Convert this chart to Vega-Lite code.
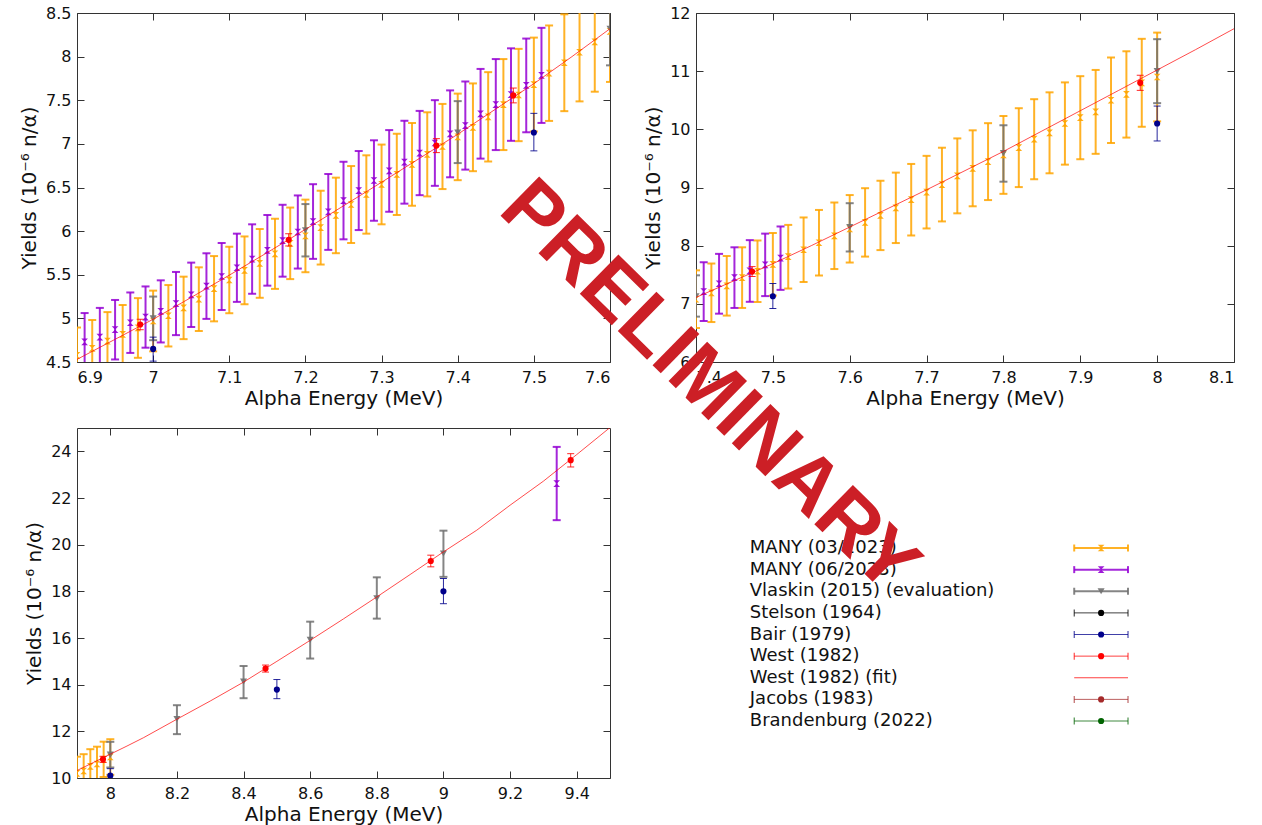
{
 "$schema": "https://vega.github.io/schema/vega-lite/v6.json",
 "padding": {"left": 19, "top": 4, "right": 0, "bottom": 0},
 "background": "white",
 "columns": 2,
 "bounds": "flush",
 "align": "each",
 "spacing": {"row": 66, "column": 86},
 "datasets": {
  "pts": [
   {"series":"MANY (03/2023)","E":6.90,"Y":4.575,"lo":4.255,"hi":4.895},
   {"series":"MANY (03/2023)","E":6.92,"Y":4.655,"lo":4.329,"hi":4.981},
   {"series":"MANY (03/2023)","E":6.94,"Y":4.74,"lo":4.408,"hi":5.072},
   {"series":"MANY (03/2023)","E":6.96,"Y":4.816,"lo":4.479,"hi":5.153},
   {"series":"MANY (03/2023)","E":6.98,"Y":4.89,"lo":4.548,"hi":5.232},
   {"series":"MANY (03/2023)","E":7.00,"Y":4.97,"lo":4.622,"hi":5.318},
   {"series":"MANY (03/2023)","E":7.02,"Y":5.03,"lo":4.678,"hi":5.382},
   {"series":"MANY (03/2023)","E":7.04,"Y":5.12,"lo":4.762,"hi":5.478},
   {"series":"MANY (03/2023)","E":7.06,"Y":5.22,"lo":4.855,"hi":5.585},
   {"series":"MANY (03/2023)","E":7.08,"Y":5.34,"lo":4.966,"hi":5.714},
   {"series":"MANY (03/2023)","E":7.10,"Y":5.44,"lo":5.059,"hi":5.821},
   {"series":"MANY (03/2023)","E":7.12,"Y":5.55,"lo":5.162,"hi":5.939},
   {"series":"MANY (03/2023)","E":7.14,"Y":5.63,"lo":5.236,"hi":6.024},
   {"series":"MANY (03/2023)","E":7.16,"Y":5.74,"lo":5.338,"hi":6.142},
   {"series":"MANY (03/2023)","E":7.18,"Y":5.86,"lo":5.450,"hi":6.270},
   {"series":"MANY (03/2023)","E":7.20,"Y":5.945,"lo":5.529,"hi":6.361},
   {"series":"MANY (03/2023)","E":7.22,"Y":6.04,"lo":5.617,"hi":6.463},
   {"series":"MANY (03/2023)","E":7.24,"Y":6.18,"lo":5.747,"hi":6.613},
   {"series":"MANY (03/2023)","E":7.26,"Y":6.305,"lo":5.864,"hi":6.746},
   {"series":"MANY (03/2023)","E":7.28,"Y":6.42,"lo":5.971,"hi":6.869},
   {"series":"MANY (03/2023)","E":7.30,"Y":6.535,"lo":6.078,"hi":6.992},
   {"series":"MANY (03/2023)","E":7.32,"Y":6.65,"lo":6.185,"hi":7.116},
   {"series":"MANY (03/2023)","E":7.34,"Y":6.765,"lo":6.291,"hi":7.239},
   {"series":"MANY (03/2023)","E":7.36,"Y":6.88,"lo":6.398,"hi":7.362},
   {"series":"MANY (03/2023)","E":7.38,"Y":6.97,"lo":6.482,"hi":7.458},
   {"series":"MANY (03/2023)","E":7.40,"Y":7.08,"lo":6.584,"hi":7.576},
   {"series":"MANY (03/2023)","E":7.42,"Y":7.19,"lo":6.687,"hi":7.693},
   {"series":"MANY (03/2023)","E":7.44,"Y":7.31,"lo":6.798,"hi":7.822},
   {"series":"MANY (03/2023)","E":7.46,"Y":7.45,"lo":6.929,"hi":7.972},
   {"series":"MANY (03/2023)","E":7.48,"Y":7.56,"lo":7.031,"hi":8.089},
   {"series":"MANY (03/2023)","E":7.50,"Y":7.68,"lo":7.142,"hi":8.218},
   {"series":"MANY (03/2023)","E":7.52,"Y":7.81,"lo":7.263,"hi":8.357},
   {"series":"MANY (03/2023)","E":7.54,"Y":7.93,"lo":7.375,"hi":8.485},
   {"series":"MANY (03/2023)","E":7.56,"Y":8.05,"lo":7.487,"hi":8.614},
   {"series":"MANY (03/2023)","E":7.58,"Y":8.17,"lo":7.598,"hi":8.742},
   {"series":"MANY (03/2023)","E":7.60,"Y":8.29,"lo":7.710,"hi":8.870},
   {"series":"MANY (03/2023)","E":7.62,"Y":8.40,"lo":7.812,"hi":8.988},
   {"series":"MANY (03/2023)","E":7.64,"Y":8.52,"lo":7.924,"hi":9.116},
   {"series":"MANY (03/2023)","E":7.66,"Y":8.65,"lo":8.045,"hi":9.256},
   {"series":"MANY (03/2023)","E":7.68,"Y":8.79,"lo":8.175,"hi":9.405},
   {"series":"MANY (03/2023)","E":7.70,"Y":8.92,"lo":8.296,"hi":9.544},
   {"series":"MANY (03/2023)","E":7.72,"Y":9.05,"lo":8.417,"hi":9.684},
   {"series":"MANY (03/2023)","E":7.74,"Y":9.20,"lo":8.556,"hi":9.844},
   {"series":"MANY (03/2023)","E":7.76,"Y":9.33,"lo":8.677,"hi":9.983},
   {"series":"MANY (03/2023)","E":7.78,"Y":9.445,"lo":8.784,"hi":10.106},
   {"series":"MANY (03/2023)","E":7.80,"Y":9.56,"lo":8.891,"hi":10.229},
   {"series":"MANY (03/2023)","E":7.82,"Y":9.685,"lo":9.007,"hi":10.363},
   {"series":"MANY (03/2023)","E":7.84,"Y":9.83,"lo":9.142,"hi":10.518},
   {"series":"MANY (03/2023)","E":7.86,"Y":9.94,"lo":9.244,"hi":10.636},
   {"series":"MANY (03/2023)","E":7.88,"Y":10.10,"lo":9.393,"hi":10.807},
   {"series":"MANY (03/2023)","E":7.90,"Y":10.20,"lo":9.486,"hi":10.914},
   {"series":"MANY (03/2023)","E":7.92,"Y":10.30,"lo":9.579,"hi":11.021},
   {"series":"MANY (03/2023)","E":7.94,"Y":10.50,"lo":9.765,"hi":11.235},
   {"series":"MANY (03/2023)","E":7.96,"Y":10.60,"lo":9.858,"hi":11.342},
   {"series":"MANY (03/2023)","E":7.98,"Y":10.80,"lo":10.044,"hi":11.556},
   {"series":"MANY (03/2023)","E":8.00,"Y":10.90,"lo":10.137,"hi":11.663},
   {"series":"MANY (06/2023)","E":6.91,"Y":4.73,"lo":4.399,"hi":5.061},
   {"series":"MANY (06/2023)","E":6.93,"Y":4.785,"lo":4.450,"hi":5.120},
   {"series":"MANY (06/2023)","E":6.95,"Y":4.87,"lo":4.529,"hi":5.211},
   {"series":"MANY (06/2023)","E":6.97,"Y":4.95,"lo":4.604,"hi":5.297},
   {"series":"MANY (06/2023)","E":6.99,"Y":5.015,"lo":4.664,"hi":5.366},
   {"series":"MANY (06/2023)","E":7.01,"Y":5.08,"lo":4.724,"hi":5.436},
   {"series":"MANY (06/2023)","E":7.03,"Y":5.17,"lo":4.808,"hi":5.532},
   {"series":"MANY (06/2023)","E":7.05,"Y":5.27,"lo":4.901,"hi":5.639},
   {"series":"MANY (06/2023)","E":7.07,"Y":5.37,"lo":4.994,"hi":5.746},
   {"series":"MANY (06/2023)","E":7.09,"Y":5.48,"lo":5.096,"hi":5.864},
   {"series":"MANY (06/2023)","E":7.11,"Y":5.58,"lo":5.189,"hi":5.971},
   {"series":"MANY (06/2023)","E":7.13,"Y":5.68,"lo":5.282,"hi":6.078},
   {"series":"MANY (06/2023)","E":7.15,"Y":5.78,"lo":5.375,"hi":6.185},
   {"series":"MANY (06/2023)","E":7.17,"Y":5.89,"lo":5.478,"hi":6.302},
   {"series":"MANY (06/2023)","E":7.19,"Y":5.99,"lo":5.571,"hi":6.409},
   {"series":"MANY (06/2023)","E":7.21,"Y":6.11,"lo":5.682,"hi":6.538},
   {"series":"MANY (06/2023)","E":7.23,"Y":6.22,"lo":5.785,"hi":6.655},
   {"series":"MANY (06/2023)","E":7.25,"Y":6.35,"lo":5.906,"hi":6.795},
   {"series":"MANY (06/2023)","E":7.27,"Y":6.465,"lo":6.012,"hi":6.918},
   {"series":"MANY (06/2023)","E":7.29,"Y":6.58,"lo":6.119,"hi":7.041},
   {"series":"MANY (06/2023)","E":7.31,"Y":6.69,"lo":6.222,"hi":7.158},
   {"series":"MANY (06/2023)","E":7.33,"Y":6.79,"lo":6.315,"hi":7.265},
   {"series":"MANY (06/2023)","E":7.35,"Y":6.895,"lo":6.412,"hi":7.378},
   {"series":"MANY (06/2023)","E":7.37,"Y":7.01,"lo":6.519,"hi":7.501},
   {"series":"MANY (06/2023)","E":7.39,"Y":7.115,"lo":6.617,"hi":7.613},
   {"series":"MANY (06/2023)","E":7.41,"Y":7.21,"lo":6.705,"hi":7.715},
   {"series":"MANY (06/2023)","E":7.43,"Y":7.345,"lo":6.831,"hi":7.859},
   {"series":"MANY (06/2023)","E":7.45,"Y":7.45,"lo":6.929,"hi":7.972},
   {"series":"MANY (06/2023)","E":7.47,"Y":7.565,"lo":7.035,"hi":8.095},
   {"series":"MANY (06/2023)","E":7.49,"Y":7.67,"lo":7.133,"hi":8.207},
   {"series":"MANY (06/2023)","E":7.51,"Y":7.785,"lo":7.240,"hi":8.330},
   {"series":"MANY (06/2023)","E":9.34,"Y":22.62,"lo":21.05,"hi":24.19},
   {"series":"Vlaskin (2015) (evaluation)","E":7.0,"Y":5.00,"lo":4.75,"hi":5.25},
   {"series":"Vlaskin (2015) (evaluation)","E":7.2,"Y":6.01,"lo":5.71,"hi":6.31},
   {"series":"Vlaskin (2015) (evaluation)","E":7.4,"Y":7.13,"lo":6.78,"hi":7.49},
   {"series":"Vlaskin (2015) (evaluation)","E":7.6,"Y":8.32,"lo":7.90,"hi":8.73},
   {"series":"Vlaskin (2015) (evaluation)","E":7.8,"Y":9.59,"lo":9.10,"hi":10.07},
   {"series":"Vlaskin (2015) (evaluation)","E":8.0,"Y":11.0,"lo":10.45,"hi":11.55},
   {"series":"Vlaskin (2015) (evaluation)","E":8.2,"Y":12.53,"lo":11.88,"hi":13.12},
   {"series":"Vlaskin (2015) (evaluation)","E":8.4,"Y":14.13,"lo":13.42,"hi":14.80},
   {"series":"Vlaskin (2015) (evaluation)","E":8.6,"Y":15.92,"lo":15.12,"hi":16.70},
   {"series":"Vlaskin (2015) (evaluation)","E":8.8,"Y":17.70,"lo":16.83,"hi":18.60},
   {"series":"Vlaskin (2015) (evaluation)","E":9.0,"Y":19.62,"lo":18.62,"hi":20.60},
   {"series":"Bair (1979)","E":7.0,"Y":4.65,"lo":4.51,"hi":4.785},
   {"series":"Bair (1979)","E":7.5,"Y":7.13,"lo":6.92,"hi":7.35},
   {"series":"Bair (1979)","E":8.0,"Y":10.10,"lo":9.80,"hi":10.40},
   {"series":"Bair (1979)","E":8.5,"Y":13.79,"lo":13.40,"hi":14.22},
   {"series":"Bair (1979)","E":9.0,"Y":18.00,"lo":17.47,"hi":18.55},
   {"series":"West (1982)","E":6.983,"Y":4.93,"lo":4.87,"hi":4.99},
   {"series":"West (1982)","E":7.178,"Y":5.90,"lo":5.83,"hi":5.97},
   {"series":"West (1982)","E":7.372,"Y":6.98,"lo":6.90,"hi":7.06},
   {"series":"West (1982)","E":7.473,"Y":7.555,"lo":7.47,"hi":7.64},
   {"series":"West (1982)","E":7.978,"Y":10.80,"lo":10.67,"hi":10.93},
   {"series":"West (1982)","E":8.466,"Y":14.69,"lo":14.54,"hi":14.84},
   {"series":"West (1982)","E":8.962,"Y":19.30,"lo":19.05,"hi":19.55},
   {"series":"West (1982)","E":9.382,"Y":23.62,"lo":23.33,"hi":23.90}
  ],
  "fit": [
   {"E":6.90,"Y":4.53},{"E":6.95,"Y":4.76},{"E":7.00,"Y":4.99},{"E":7.05,"Y":5.24},
   {"E":7.10,"Y":5.495},{"E":7.15,"Y":5.755},{"E":7.20,"Y":6.02},{"E":7.25,"Y":6.29},
   {"E":7.30,"Y":6.56},{"E":7.35,"Y":6.835},{"E":7.40,"Y":7.11},{"E":7.45,"Y":7.40},
   {"E":7.50,"Y":7.69},{"E":7.55,"Y":8.00},{"E":7.60,"Y":8.32},{"E":7.65,"Y":8.64},
   {"E":7.70,"Y":8.96},{"E":7.75,"Y":9.29},{"E":7.80,"Y":9.62},{"E":7.85,"Y":9.97},
   {"E":7.90,"Y":10.32},{"E":7.95,"Y":10.67},{"E":8.00,"Y":11.02},{"E":8.05,"Y":11.37},
   {"E":8.10,"Y":11.73},{"E":8.20,"Y":12.52},{"E":8.30,"Y":13.30},{"E":8.40,"Y":14.11},
   {"E":8.50,"Y":15.00},{"E":8.60,"Y":15.90},{"E":8.70,"Y":16.82},{"E":8.80,"Y":17.76},
   {"E":8.90,"Y":18.72},{"E":9.00,"Y":19.69},{"E":9.10,"Y":20.62},{"E":9.20,"Y":21.69},
   {"E":9.30,"Y":22.72},{"E":9.40,"Y":23.86},{"E":9.50,"Y":25.02}
  ],
  "legend": [
   {"series":"MANY (03/2023)"},{"series":"MANY (06/2023)"},{"series":"Vlaskin (2015) (evaluation)"},
   {"series":"Stelson (1964)"},{"series":"Bair (1979)"},{"series":"West (1982)"},
   {"series":"West (1982) (fit)"},{"series":"Jacobs (1983)"},{"series":"Brandenburg (2022)"}
  ],
  "mark": [{"t":"PRELIMINARY"}]
 },
 "concat": [
  {
   "width": 533, "height": 349,
   "resolve": {"axis": {"x": "independent", "y": "independent"}},
   "layer": [
    {
     "layer": [
      {"data":{"name":"pts"},"transform":[{"filter":{"field":"series","oneOf":["MANY (03/2023)","MANY (06/2023)","Vlaskin (2015) (evaluation)"]}}],
       "mark":{"type":"rule","strokeWidth":2,"opacity":0.85,"clip":true},
       "encoding":{
        "x":{"field":"E","type":"quantitative","scale":{"domain":[6.9,7.6],"zero":false,"nice":false},"axis":{"title":"Alpha Energy (MeV)","values":[6.9,7,7.1,7.2,7.3,7.4,7.5,7.6],"format":"~g"}},
        "y":{"field":"lo","type":"quantitative","scale":{"domain":[4.5,8.5],"zero":false,"nice":false},"axis":{"title":"Yields (10⁻⁶ n/α)","values":[4.5,5,5.5,6,6.5,7,7.5,8,8.5],"format":"~g"}},
        "y2":{"field":"hi"},
        "color":{"field":"series","type":"nominal","legend":null,"scale":{"domain":["MANY (03/2023)","MANY (06/2023)","Vlaskin (2015) (evaluation)","Stelson (1964)","Bair (1979)","West (1982)","West (1982) (fit)","Jacobs (1983)","Brandenburg (2022)"],"range":["#ffa500","#9400d3","#707070","#000000","#00008b","#ff0000","#ff0000","#a52a2a","#006400"]}}}},
      {"data":{"name":"pts"},"transform":[{"filter":{"field":"series","oneOf":["MANY (03/2023)","MANY (06/2023)","Vlaskin (2015) (evaluation)"]}}],
       "mark":{"type":"tick","orient":"horizontal","size":8,"thickness":2,"opacity":0.85,"clip":true},
       "encoding":{"x":{"field":"E","type":"quantitative"},"y":{"field":"lo","type":"quantitative"},"color":{"field":"series","type":"nominal","legend":null}}},
      {"data":{"name":"pts"},"transform":[{"filter":{"field":"series","oneOf":["MANY (03/2023)","MANY (06/2023)","Vlaskin (2015) (evaluation)"]}}],
       "mark":{"type":"tick","orient":"horizontal","size":8,"thickness":2,"opacity":0.85,"clip":true},
       "encoding":{"x":{"field":"E","type":"quantitative"},"y":{"field":"hi","type":"quantitative"},"color":{"field":"series","type":"nominal","legend":null}}},
      {"data":{"name":"pts"},"transform":[{"filter":{"field":"series","oneOf":["MANY (03/2023)","MANY (06/2023)"]}}],
       "mark":{"type":"point","shape":"M-1,-1L1,-1L-1,1L1,1Z","size":45,"filled":true,"opacity":0.9,"clip":true},
       "encoding":{"x":{"field":"E","type":"quantitative"},"y":{"field":"Y","type":"quantitative"},"color":{"field":"series","type":"nominal","legend":null}}},
      {"data":{"name":"pts"},"transform":[{"filter":{"field":"series","equal":"Vlaskin (2015) (evaluation)"}}],
       "mark":{"type":"point","shape":"triangle-down","size":50,"filled":true,"opacity":0.9,"clip":true},
       "encoding":{"x":{"field":"E","type":"quantitative"},"y":{"field":"Y","type":"quantitative"},"color":{"field":"series","type":"nominal","legend":null}}},
      {"data":{"name":"pts"},"transform":[{"filter":{"field":"series","oneOf":["Bair (1979)","West (1982)"]}}],
       "mark":{"type":"rule","strokeWidth":1,"opacity":0.85,"clip":true},
       "encoding":{"x":{"field":"E","type":"quantitative"},"y":{"field":"lo","type":"quantitative"},"y2":{"field":"hi"},"color":{"field":"series","type":"nominal","legend":null}}},
      {"data":{"name":"pts"},"transform":[{"filter":{"field":"series","oneOf":["Bair (1979)","West (1982)"]}}],
       "mark":{"type":"tick","orient":"horizontal","size":7,"thickness":1,"opacity":0.85,"clip":true},
       "encoding":{"x":{"field":"E","type":"quantitative"},"y":{"field":"lo","type":"quantitative"},"color":{"field":"series","type":"nominal","legend":null}}},
      {"data":{"name":"pts"},"transform":[{"filter":{"field":"series","oneOf":["Bair (1979)","West (1982)"]}}],
       "mark":{"type":"tick","orient":"horizontal","size":7,"thickness":1,"opacity":0.85,"clip":true},
       "encoding":{"x":{"field":"E","type":"quantitative"},"y":{"field":"hi","type":"quantitative"},"color":{"field":"series","type":"nominal","legend":null}}},
      {"data":{"name":"fit"},"mark":{"type":"line","color":"#ff0000","opacity":0.7,"strokeWidth":1,"clip":true},
       "encoding":{"x":{"field":"E","type":"quantitative"},"y":{"field":"Y","type":"quantitative"}}},
      {"data":{"name":"pts"},"transform":[{"filter":{"field":"series","oneOf":["Bair (1979)","West (1982)"]}}],
       "mark":{"type":"point","shape":"circle","size":38,"filled":true,"opacity":1,"clip":true},
       "encoding":{"x":{"field":"E","type":"quantitative"},"y":{"field":"Y","type":"quantitative"},"color":{"field":"series","type":"nominal","legend":null}}}
     ]
    },
    {"data":{"name":"fit"},"mark":{"type":"line","opacity":0,"clip":true},
     "encoding":{
      "x":{"field":"E","type":"quantitative","axis":{"orient":"top","labels":false,"title":null,"values":[6.9,7,7.1,7.2,7.3,7.4,7.5,7.6]}},
      "y":{"field":"Y","type":"quantitative","axis":{"orient":"right","labels":false,"title":null,"values":[4.5,5,5.5,6,6.5,7,7.5,8,8.5]}}}}
   ]
  },
  {
   "width": 538, "height": 349,
   "resolve": {"axis": {"x": "independent", "y": "independent"}},
   "layer": [
    {
     "layer": [
      {"data":{"name":"pts"},"transform":[{"filter":{"field":"series","oneOf":["MANY (03/2023)","MANY (06/2023)","Vlaskin (2015) (evaluation)"]}}],
       "mark":{"type":"rule","strokeWidth":2,"opacity":0.85,"clip":true},
       "encoding":{
        "x":{"field":"E","type":"quantitative","scale":{"domain":[7.4,8.1],"zero":false,"nice":false},"axis":{"title":"Alpha Energy (MeV)","values":[7.4,7.5,7.6,7.7,7.8,7.9,8,8.1],"format":"~g"}},
        "y":{"field":"lo","type":"quantitative","scale":{"domain":[6,12],"zero":false,"nice":false},"axis":{"title":"Yields (10⁻⁶ n/α)","values":[6,7,8,9,10,11,12],"format":"~g"}},
        "y2":{"field":"hi"},
        "color":{"field":"series","type":"nominal","legend":null,"scale":{"domain":["MANY (03/2023)","MANY (06/2023)","Vlaskin (2015) (evaluation)","Stelson (1964)","Bair (1979)","West (1982)","West (1982) (fit)","Jacobs (1983)","Brandenburg (2022)"],"range":["#ffa500","#9400d3","#707070","#000000","#00008b","#ff0000","#ff0000","#a52a2a","#006400"]}}}},
      {"data":{"name":"pts"},"transform":[{"filter":{"field":"series","oneOf":["MANY (03/2023)","MANY (06/2023)","Vlaskin (2015) (evaluation)"]}}],
       "mark":{"type":"tick","orient":"horizontal","size":8,"thickness":2,"opacity":0.85,"clip":true},
       "encoding":{"x":{"field":"E","type":"quantitative"},"y":{"field":"lo","type":"quantitative"},"color":{"field":"series","type":"nominal","legend":null}}},
      {"data":{"name":"pts"},"transform":[{"filter":{"field":"series","oneOf":["MANY (03/2023)","MANY (06/2023)","Vlaskin (2015) (evaluation)"]}}],
       "mark":{"type":"tick","orient":"horizontal","size":8,"thickness":2,"opacity":0.85,"clip":true},
       "encoding":{"x":{"field":"E","type":"quantitative"},"y":{"field":"hi","type":"quantitative"},"color":{"field":"series","type":"nominal","legend":null}}},
      {"data":{"name":"pts"},"transform":[{"filter":{"field":"series","oneOf":["MANY (03/2023)","MANY (06/2023)"]}}],
       "mark":{"type":"point","shape":"M-1,-1L1,-1L-1,1L1,1Z","size":45,"filled":true,"opacity":0.9,"clip":true},
       "encoding":{"x":{"field":"E","type":"quantitative"},"y":{"field":"Y","type":"quantitative"},"color":{"field":"series","type":"nominal","legend":null}}},
      {"data":{"name":"pts"},"transform":[{"filter":{"field":"series","equal":"Vlaskin (2015) (evaluation)"}}],
       "mark":{"type":"point","shape":"triangle-down","size":50,"filled":true,"opacity":0.9,"clip":true},
       "encoding":{"x":{"field":"E","type":"quantitative"},"y":{"field":"Y","type":"quantitative"},"color":{"field":"series","type":"nominal","legend":null}}},
      {"data":{"name":"pts"},"transform":[{"filter":{"field":"series","oneOf":["Bair (1979)","West (1982)"]}}],
       "mark":{"type":"rule","strokeWidth":1,"opacity":0.85,"clip":true},
       "encoding":{"x":{"field":"E","type":"quantitative"},"y":{"field":"lo","type":"quantitative"},"y2":{"field":"hi"},"color":{"field":"series","type":"nominal","legend":null}}},
      {"data":{"name":"pts"},"transform":[{"filter":{"field":"series","oneOf":["Bair (1979)","West (1982)"]}}],
       "mark":{"type":"tick","orient":"horizontal","size":7,"thickness":1,"opacity":0.85,"clip":true},
       "encoding":{"x":{"field":"E","type":"quantitative"},"y":{"field":"lo","type":"quantitative"},"color":{"field":"series","type":"nominal","legend":null}}},
      {"data":{"name":"pts"},"transform":[{"filter":{"field":"series","oneOf":["Bair (1979)","West (1982)"]}}],
       "mark":{"type":"tick","orient":"horizontal","size":7,"thickness":1,"opacity":0.85,"clip":true},
       "encoding":{"x":{"field":"E","type":"quantitative"},"y":{"field":"hi","type":"quantitative"},"color":{"field":"series","type":"nominal","legend":null}}},
      {"data":{"name":"fit"},"mark":{"type":"line","color":"#ff0000","opacity":0.7,"strokeWidth":1,"clip":true},
       "encoding":{"x":{"field":"E","type":"quantitative"},"y":{"field":"Y","type":"quantitative"}}},
      {"data":{"name":"pts"},"transform":[{"filter":{"field":"series","oneOf":["Bair (1979)","West (1982)"]}}],
       "mark":{"type":"point","shape":"circle","size":38,"filled":true,"opacity":1,"clip":true},
       "encoding":{"x":{"field":"E","type":"quantitative"},"y":{"field":"Y","type":"quantitative"},"color":{"field":"series","type":"nominal","legend":null}}}
     ]
    },
    {"data":{"name":"fit"},"mark":{"type":"line","opacity":0,"clip":true},
     "encoding":{
      "x":{"field":"E","type":"quantitative","axis":{"orient":"top","labels":false,"title":null,"values":[7.4,7.5,7.6,7.7,7.8,7.9,8,8.1]}},
      "y":{"field":"Y","type":"quantitative","axis":{"orient":"right","labels":false,"title":null,"values":[6,7,8,9,10,11,12]}}}}
   ]
  },
  {
   "width": 533, "height": 350,
   "resolve": {"axis": {"x": "independent", "y": "independent"}},
   "layer": [
    {
     "layer": [
      {"data":{"name":"pts"},"transform":[{"filter":{"field":"series","oneOf":["MANY (03/2023)","MANY (06/2023)","Vlaskin (2015) (evaluation)"]}}],
       "mark":{"type":"rule","strokeWidth":2,"opacity":0.85,"clip":true},
       "encoding":{
        "x":{"field":"E","type":"quantitative","scale":{"domain":[7.9,9.5],"zero":false,"nice":false},"axis":{"title":"Alpha Energy (MeV)","values":[8,8.2,8.4,8.6,8.8,9,9.2,9.4],"format":"~g"}},
        "y":{"field":"lo","type":"quantitative","scale":{"domain":[10,25],"zero":false,"nice":false},"axis":{"title":"Yields (10⁻⁶ n/α)","values":[10,12,14,16,18,20,22,24],"format":"~g"}},
        "y2":{"field":"hi"},
        "color":{"field":"series","type":"nominal","legend":null,"scale":{"domain":["MANY (03/2023)","MANY (06/2023)","Vlaskin (2015) (evaluation)","Stelson (1964)","Bair (1979)","West (1982)","West (1982) (fit)","Jacobs (1983)","Brandenburg (2022)"],"range":["#ffa500","#9400d3","#707070","#000000","#00008b","#ff0000","#ff0000","#a52a2a","#006400"]}}}},
      {"data":{"name":"pts"},"transform":[{"filter":{"field":"series","oneOf":["MANY (03/2023)","MANY (06/2023)","Vlaskin (2015) (evaluation)"]}}],
       "mark":{"type":"tick","orient":"horizontal","size":8,"thickness":2,"opacity":0.85,"clip":true},
       "encoding":{"x":{"field":"E","type":"quantitative"},"y":{"field":"lo","type":"quantitative"},"color":{"field":"series","type":"nominal","legend":null}}},
      {"data":{"name":"pts"},"transform":[{"filter":{"field":"series","oneOf":["MANY (03/2023)","MANY (06/2023)","Vlaskin (2015) (evaluation)"]}}],
       "mark":{"type":"tick","orient":"horizontal","size":8,"thickness":2,"opacity":0.85,"clip":true},
       "encoding":{"x":{"field":"E","type":"quantitative"},"y":{"field":"hi","type":"quantitative"},"color":{"field":"series","type":"nominal","legend":null}}},
      {"data":{"name":"pts"},"transform":[{"filter":{"field":"series","oneOf":["MANY (03/2023)","MANY (06/2023)"]}}],
       "mark":{"type":"point","shape":"M-1,-1L1,-1L-1,1L1,1Z","size":45,"filled":true,"opacity":0.9,"clip":true},
       "encoding":{"x":{"field":"E","type":"quantitative"},"y":{"field":"Y","type":"quantitative"},"color":{"field":"series","type":"nominal","legend":null}}},
      {"data":{"name":"pts"},"transform":[{"filter":{"field":"series","equal":"Vlaskin (2015) (evaluation)"}}],
       "mark":{"type":"point","shape":"triangle-down","size":50,"filled":true,"opacity":0.9,"clip":true},
       "encoding":{"x":{"field":"E","type":"quantitative"},"y":{"field":"Y","type":"quantitative"},"color":{"field":"series","type":"nominal","legend":null}}},
      {"data":{"name":"pts"},"transform":[{"filter":{"field":"series","oneOf":["Bair (1979)","West (1982)"]}}],
       "mark":{"type":"rule","strokeWidth":1,"opacity":0.85,"clip":true},
       "encoding":{"x":{"field":"E","type":"quantitative"},"y":{"field":"lo","type":"quantitative"},"y2":{"field":"hi"},"color":{"field":"series","type":"nominal","legend":null}}},
      {"data":{"name":"pts"},"transform":[{"filter":{"field":"series","oneOf":["Bair (1979)","West (1982)"]}}],
       "mark":{"type":"tick","orient":"horizontal","size":7,"thickness":1,"opacity":0.85,"clip":true},
       "encoding":{"x":{"field":"E","type":"quantitative"},"y":{"field":"lo","type":"quantitative"},"color":{"field":"series","type":"nominal","legend":null}}},
      {"data":{"name":"pts"},"transform":[{"filter":{"field":"series","oneOf":["Bair (1979)","West (1982)"]}}],
       "mark":{"type":"tick","orient":"horizontal","size":7,"thickness":1,"opacity":0.85,"clip":true},
       "encoding":{"x":{"field":"E","type":"quantitative"},"y":{"field":"hi","type":"quantitative"},"color":{"field":"series","type":"nominal","legend":null}}},
      {"data":{"name":"fit"},"mark":{"type":"line","color":"#ff0000","opacity":0.7,"strokeWidth":1,"clip":true},
       "encoding":{"x":{"field":"E","type":"quantitative"},"y":{"field":"Y","type":"quantitative"}}},
      {"data":{"name":"pts"},"transform":[{"filter":{"field":"series","oneOf":["Bair (1979)","West (1982)"]}}],
       "mark":{"type":"point","shape":"circle","size":38,"filled":true,"opacity":1,"clip":true},
       "encoding":{"x":{"field":"E","type":"quantitative"},"y":{"field":"Y","type":"quantitative"},"color":{"field":"series","type":"nominal","legend":null}}}
     ]
    },
    {"data":{"name":"fit"},"mark":{"type":"line","opacity":0,"clip":true},
     "encoding":{
      "x":{"field":"E","type":"quantitative","axis":{"orient":"top","labels":false,"title":null,"values":[8,8.2,8.4,8.6,8.8,9,9.2,9.4]}},
      "y":{"field":"Y","type":"quantitative","axis":{"orient":"right","labels":false,"title":null,"values":[10,12,14,16,18,20,22,24]}}}}
   ]
  },
  {
   "width": 538, "height": 350,
   "view": {"stroke": null},
   "resolve": {"scale": {"y": "independent"}},
   "layer": [
    {
     "layer": [
      {"data":{"name":"legend"},
       "mark":{"type":"text","align":"left","baseline":"middle","fontSize":18,"font":"DejaVu Sans","color":"#111111"},
       "encoding":{
        "x":{"datum":1,"type":"quantitative","scale":{"domain":[0,10],"zero":false,"nice":false},"axis":null},
        "y":{"field":"series","type":"nominal","scale":{"type":"point","domain":["MANY (03/2023)","MANY (06/2023)","Vlaskin (2015) (evaluation)","Stelson (1964)","Bair (1979)","West (1982)","West (1982) (fit)","Jacobs (1983)","Brandenburg (2022)"],"range":[120,293],"padding":0},"axis":null},
        "text":{"field":"series"}}},
      {"data":{"name":"legend"},"transform":[{"filter":{"field":"series","oneOf":["MANY (03/2023)","MANY (06/2023)","Vlaskin (2015) (evaluation)"]}}],
       "mark":{"type":"rule","strokeWidth":2,"opacity":0.85},
       "encoding":{"x":{"datum":7.03},"x2":{"datum":8.03},"y":{"field":"series","type":"nominal"},
        "color":{"field":"series","type":"nominal","legend":null,"scale":{"domain":["MANY (03/2023)","MANY (06/2023)","Vlaskin (2015) (evaluation)","Stelson (1964)","Bair (1979)","West (1982)","West (1982) (fit)","Jacobs (1983)","Brandenburg (2022)"],"range":["#ffa500","#9400d3","#707070","#000000","#00008b","#ff0000","#ff0000","#a52a2a","#006400"]}}}},
      {"data":{"name":"legend"},"transform":[{"filter":{"field":"series","oneOf":["Stelson (1964)","Bair (1979)","West (1982)","West (1982) (fit)","Jacobs (1983)","Brandenburg (2022)"]}}],
       "mark":{"type":"rule","strokeWidth":1,"opacity":0.75},
       "encoding":{"x":{"datum":7.03},"x2":{"datum":8.03},"y":{"field":"series","type":"nominal"},"color":{"field":"series","type":"nominal","legend":null}}},
      {"data":{"name":"legend"},"transform":[{"filter":{"field":"series","oneOf":["MANY (03/2023)","MANY (06/2023)","Vlaskin (2015) (evaluation)"]}}],
       "mark":{"type":"tick","orient":"vertical","size":7,"thickness":2,"opacity":0.85},
       "encoding":{"x":{"datum":7.03},"y":{"field":"series","type":"nominal"},"color":{"field":"series","type":"nominal","legend":null}}},
      {"data":{"name":"legend"},"transform":[{"filter":{"field":"series","oneOf":["MANY (03/2023)","MANY (06/2023)","Vlaskin (2015) (evaluation)"]}}],
       "mark":{"type":"tick","orient":"vertical","size":7,"thickness":2,"opacity":0.85},
       "encoding":{"x":{"datum":8.03},"y":{"field":"series","type":"nominal"},"color":{"field":"series","type":"nominal","legend":null}}},
      {"data":{"name":"legend"},"transform":[{"filter":{"field":"series","oneOf":["Stelson (1964)","Bair (1979)","West (1982)","Jacobs (1983)","Brandenburg (2022)"]}}],
       "mark":{"type":"tick","orient":"vertical","size":7,"thickness":1,"opacity":0.85},
       "encoding":{"x":{"datum":7.03},"y":{"field":"series","type":"nominal"},"color":{"field":"series","type":"nominal","legend":null}}},
      {"data":{"name":"legend"},"transform":[{"filter":{"field":"series","oneOf":["Stelson (1964)","Bair (1979)","West (1982)","Jacobs (1983)","Brandenburg (2022)"]}}],
       "mark":{"type":"tick","orient":"vertical","size":7,"thickness":1,"opacity":0.85},
       "encoding":{"x":{"datum":8.03},"y":{"field":"series","type":"nominal"},"color":{"field":"series","type":"nominal","legend":null}}},
      {"data":{"name":"legend"},"transform":[{"filter":{"field":"series","oneOf":["MANY (03/2023)","MANY (06/2023)"]}}],
       "mark":{"type":"point","shape":"M-1,-1L1,-1L-1,1L1,1Z","size":45,"filled":true,"opacity":0.9},
       "encoding":{"x":{"datum":7.53},"y":{"field":"series","type":"nominal"},"color":{"field":"series","type":"nominal","legend":null}}},
      {"data":{"name":"legend"},"transform":[{"filter":{"field":"series","equal":"Vlaskin (2015) (evaluation)"}}],
       "mark":{"type":"point","shape":"triangle-down","size":50,"filled":true,"opacity":0.9},
       "encoding":{"x":{"datum":7.53},"y":{"field":"series","type":"nominal"},"color":{"field":"series","type":"nominal","legend":null}}},
      {"data":{"name":"legend"},"transform":[{"filter":{"field":"series","oneOf":["Stelson (1964)","Bair (1979)","West (1982)","Jacobs (1983)","Brandenburg (2022)"]}}],
       "mark":{"type":"point","shape":"circle","size":38,"filled":true,"opacity":1},
       "encoding":{"x":{"datum":7.53},"y":{"field":"series","type":"nominal"},"color":{"field":"series","type":"nominal","legend":null}}}
     ]
    },
    {"data":{"name":"mark"},
     "mark":{"type":"text","angle":44.5,"fontSize":80,"font":"Liberation Sans","fontWeight":"bold","color":"#cc1f26","align":"center","baseline":"middle","clip":false},
     "encoding":{
      "x":{"datum":0.2416,"type":"quantitative"},
      "y":{"datum":11.17,"type":"quantitative","scale":{"domain":[0,10],"zero":false,"nice":false},"axis":null},
      "text":{"field":"t"}}}
   ]
  }
 ],
 "config": {
  "font": "DejaVu Sans",
  "view": {"stroke": "#333333", "strokeWidth": 1},
  "axis": {"domain": false, "grid": false, "tickSize": -7, "tickColor": "#333333", "tickWidth": 1,
   "labelFont": "DejaVu Sans", "labelFontSize": 16, "labelColor": "#111111",
   "titleFont": "DejaVu Sans", "titleFontSize": 20, "titleFontWeight": "normal", "titleColor": "#111111"},
  "axisX": {"labelPadding": 14, "titlePadding": 3},
  "axisY": {"labelPadding": 13, "titlePadding": 6}
 }
}
